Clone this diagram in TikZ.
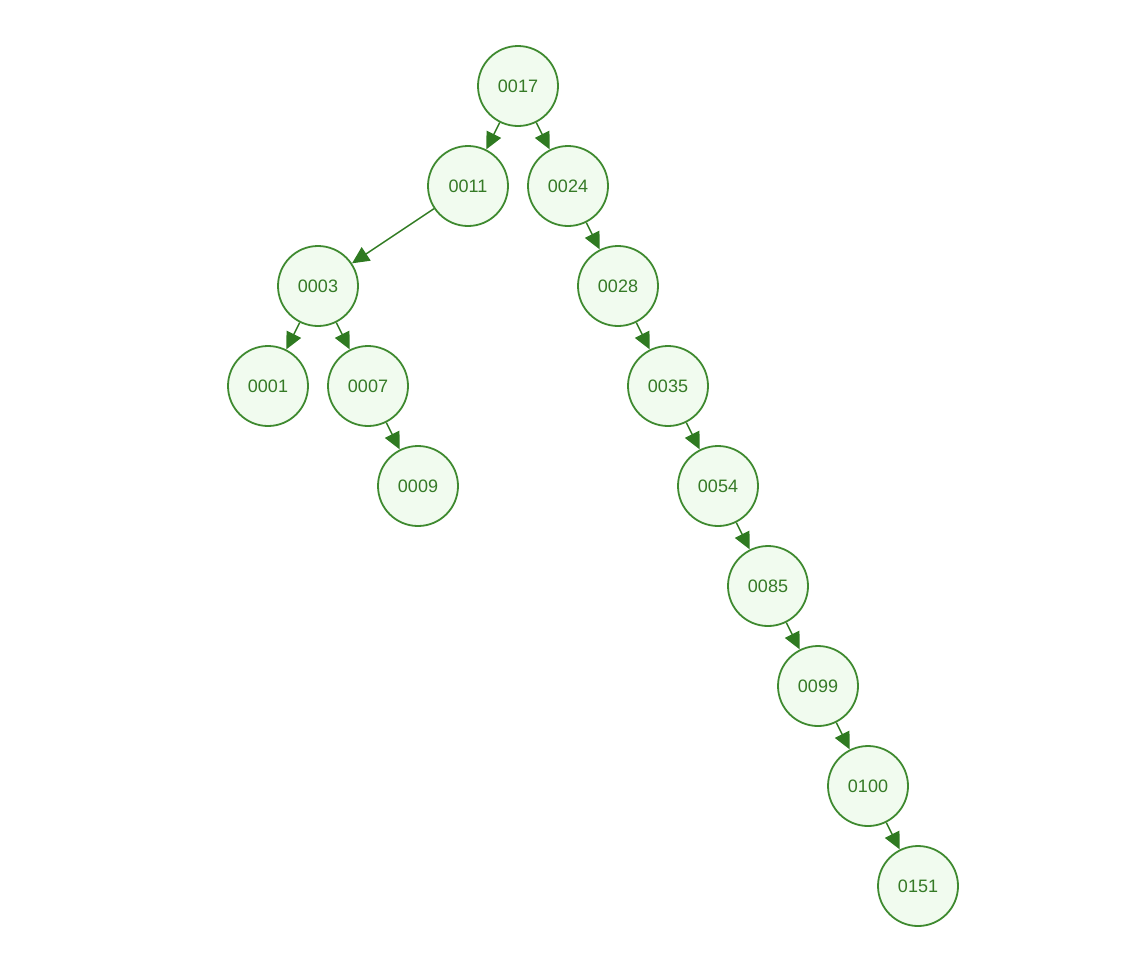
\documentclass[tikz,border=0pt]{standalone}
\usepackage{fontspec}
\setmainfont{Liberation Sans}
\usetikzlibrary{arrows.meta}
\definecolor{nstroke}{HTML}{3F8A30}
\definecolor{nfill}{HTML}{F1FBEF}
\definecolor{ntext}{HTML}{357A26}
\definecolor{nedge}{HTML}{2F7A21}
\begin{document}
\begin{tikzpicture}[x=1pt,y=-1pt,
  tnode/.style={circle,draw=nstroke,fill=nfill,line width=1.8pt,minimum size=80pt,inner sep=0pt,text=ntext,font=\fontsize{18}{21}\selectfont},
  tedge/.style={draw=nedge,line width=1.5pt,-{Triangle[length=17pt,width=16pt]}}]
\useasboundingbox (0,0) rectangle (1134,970);
\node[tnode] (n17) at (518,86) {0017};
\node[tnode] (n11) at (468,186) {0011};
\node[tnode] (n24) at (568,186) {0024};
\node[tnode] (n03) at (318,286) {0003};
\node[tnode] (n28) at (618,286) {0028};
\node[tnode] (n01) at (268,386) {0001};
\node[tnode] (n07) at (368,386) {0007};
\node[tnode] (n35) at (668,386) {0035};
\node[tnode] (n09) at (418,486) {0009};
\node[tnode] (n54) at (718,486) {0054};
\node[tnode] (n85) at (768,586) {0085};
\node[tnode] (n99) at (818,686) {0099};
\node[tnode] (n100) at (868,786) {0100};
\node[tnode] (n151) at (918,886) {0151};
\draw[tedge] (n17) -- (n11);
\draw[tedge] (n17) -- (n24);
\draw[tedge] (n11) -- (n03);
\draw[tedge] (n24) -- (n28);
\draw[tedge] (n03) -- (n01);
\draw[tedge] (n03) -- (n07);
\draw[tedge] (n28) -- (n35);
\draw[tedge] (n07) -- (n09);
\draw[tedge] (n35) -- (n54);
\draw[tedge] (n54) -- (n85);
\draw[tedge] (n85) -- (n99);
\draw[tedge] (n99) -- (n100);
\draw[tedge] (n100) -- (n151);
\end{tikzpicture}
\end{document}
